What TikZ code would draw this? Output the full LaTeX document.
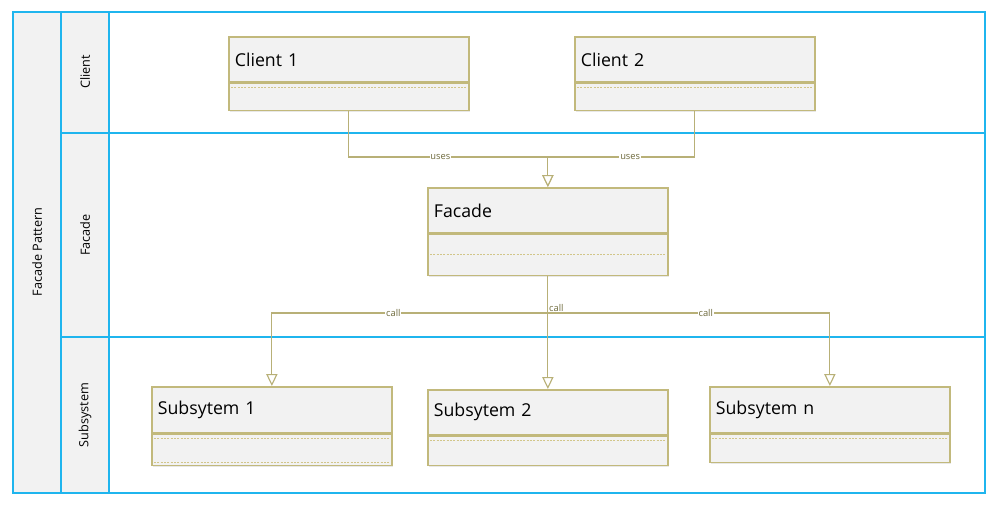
\documentclass[tikz,border=0pt]{standalone}
\usepackage{fontspec}
\setmainfont{Open Sans}
\usetikzlibrary{arrows.meta, positioning, calc, shadows}
\definecolor{laneblue}{HTML}{1FB5EE}
\definecolor{lanefill}{HTML}{F2F2F2}
\definecolor{umlline}{HTML}{C2B97C}
\definecolor{umlfill}{HTML}{F2F2F2}
\definecolor{umldash}{HTML}{D2C68A}
\definecolor{umlwire}{HTML}{B8B077}
\definecolor{umltext}{HTML}{6E6A3C}

\begin{document}
\begin{tikzpicture}[x=0.75pt, y=-0.75pt,
   lane/.style={draw=laneblue, line width=1.7pt},
   lanelabel/.style={rotate=90, font=\fontsize{9.5}{11}\selectfont},
   classhead/.style={draw=umlline, fill=umlfill, line width=1.3pt, anchor=north west,
      minimum width=180pt, text width=171pt, inner xsep=4.5pt, align=left,
      font=\fontsize{13.3}{15}\selectfont,
      drop shadow={opacity=0.18, shadow xshift=1pt, shadow yshift=-1.2pt}},
   classbody/.style={draw=umlline, fill=umlfill, line width=1.3pt, minimum width=180pt,
      drop shadow={opacity=0.18, shadow xshift=1pt, shadow yshift=-1.2pt}},
   attrline/.style={umldash, line width=0.6pt, dash pattern=on 1.5pt off 1pt},
   wire/.style={umlwire, line width=0.85pt, -{Triangle[length=9pt, width=8.5pt, fill=white]}},
   wirelabel/.style={fill=white, text=umltext, inner sep=0.6pt, font=\fontsize{7}{8}\selectfont}]
   \useasboundingbox (0,0) rectangle (997,504);

   % swimlanes
   \fill[lanefill] (13,12) rectangle (109,493);
   \draw[lane] (13,12) rectangle (985,493);
   \draw[lane] (61,12) -- (61,493);
   \draw[lane] (109,12) -- (109,493);
   \draw[lane] (61,133) -- (985,133);
   \draw[lane] (61,337) -- (985,337);
   \node[lanelabel] (pattern) at (37,252) {Facade Pattern};
   \node[lanelabel] (laneclient) at (85,72) {Client};
   \node[lanelabel] (lanefacade) at (85,235) {Facade};
   \node[lanelabel] (lanesub) at (85,415) {Subsystem};

   % classes
   \node[classhead, minimum height=33.75pt] (client1) at (228,36) {Client 1};
   \node[classbody, minimum height=20.25pt, below=0pt of client1] (client1b) {};
   \node[classhead, minimum height=33.75pt] (client2) at (574,36) {Client 2};
   \node[classbody, minimum height=20.25pt, below=0pt of client2] (client2b) {};
   \node[classhead, minimum height=33.75pt] (facade) at (427,187) {Facade};
   \node[classbody, minimum height=30.75pt, below=0pt of facade] (facadeb) {};
   \node[classhead, minimum height=34.5pt] (sub1) at (151,386) {Subsytem 1};
   \node[classbody, minimum height=23.25pt, below=0pt of sub1] (sub1b) {};
   \node[classhead, minimum height=33.75pt] (sub2) at (427,389) {Subsytem 2};
   \node[classbody, minimum height=21.75pt, below=0pt of sub2] (sub2b) {};
   \node[classhead, minimum height=34.5pt] (subn) at (709,386) {Subsytem n};
   \node[classbody, minimum height=21pt, below=0pt of subn] (subnb) {};

   % attribute separators
   \draw[attrline] ($(client1b.north west)+(3,5)$) -- ($(client1b.north east)+(-3,5)$);
   \draw[attrline] ($(client2b.north west)+(3,5)$) -- ($(client2b.north east)+(-3,5)$);
   \draw[attrline] ($(facadeb.north west)+(3,21)$) -- ($(facadeb.north east)+(-3,21)$);
   \draw[attrline] ($(sub1b.north west)+(3,5)$) -- ($(sub1b.north east)+(-3,5)$);
   \draw[attrline] ($(sub1b.south west)+(3,-4)$) -- ($(sub1b.south east)+(-3,-4)$);
   \draw[attrline] ($(sub2b.north west)+(3,5)$) -- ($(sub2b.north east)+(-3,5)$);
   \draw[attrline] ($(subnb.north west)+(3,5)$) -- ($(subnb.north east)+(-3,5)$);

   % uses
   \coordinate (usesjoin) at (facade.north |- 0,157);
   \draw[wire] (client1b.south) |- node[wirelabel, pos=0.73] {uses} (usesjoin) -- (facade.north);
   \draw[wire] (client2b.south) |- node[wirelabel, pos=0.72] {uses} (usesjoin) -- (facade.north);

   % calls
   \coordinate (callhub) at (facadeb.south |- 0,313);
   \draw[wire] (callhub) -| node[wirelabel, pos=0.28] {call} (sub1.north);
   \draw[wire] (callhub) -| node[wirelabel, pos=0.28] {call} (subn.north);
   \draw[wire] (facadeb.south) -- node[wirelabel, fill=none, anchor=west, pos=0.28] {call} (sub2.north);
\end{tikzpicture}
\end{document}
